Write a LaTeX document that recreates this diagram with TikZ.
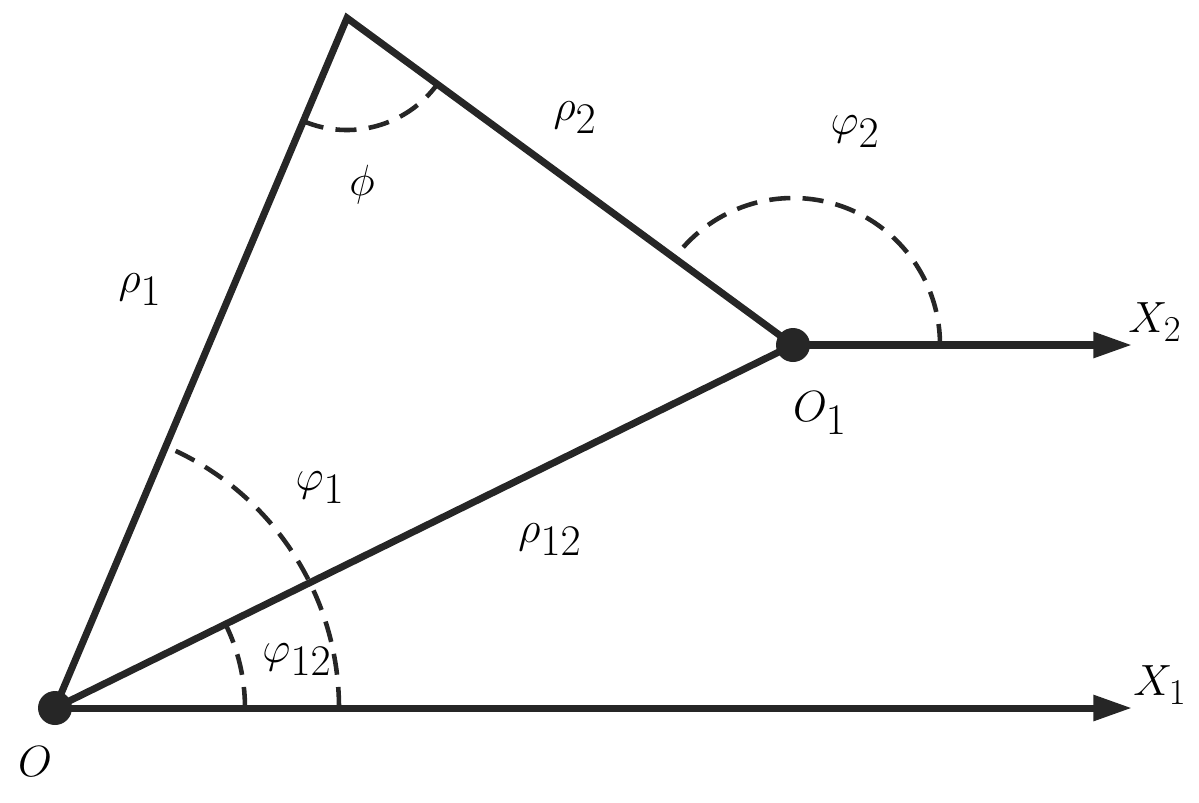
\documentclass[tikz,border=0pt]{standalone}
\usetikzlibrary{arrows.meta}
\begin{document}
\begin{tikzpicture}[x=0.02cm,y=-0.02cm,
  line/.style={line width=4pt,draw=dk,line cap=round},
  arrowline/.style={line width=4pt,draw=dk,-{Triangle[length=22pt,width=14pt]}},
  arcd/.style={line width=2.6pt,draw=dk,dash pattern=on 12pt off 7pt},
  lab/.style={font=\fontsize{35}{40}\selectfont,text=black}]
\definecolor{dk}{HTML}{262626}
\useasboundingbox (0,0) rectangle (1199,802);
\coordinate (O) at (55,708);
\coordinate (O1) at (793,345);
\coordinate (A) at (347,18);
\coordinate (X1) at (1132,708);
\coordinate (X2) at (1132,345);
\draw[line] (O) -- (A) -- (O1) -- cycle;
\draw[arrowline] (O) -- (X1);
\draw[arrowline] (O1) -- (X2);
\fill[dk] (O) circle (0.34cm);
\fill[dk] (O1) circle (0.34cm);
\draw[arcd] (A) ++(113:112) arc[start angle=113,end angle=36,radius=112];
\draw[arcd] (O1) ++(0:147) arc[start angle=0,end angle=-144,radius=147];
\draw[arcd] (O) ++(0:284) arc[start angle=0,end angle=-67,radius=284];
\draw[arcd] (O) ++(0:190) arc[start angle=0,end angle=-26.2,radius=190];
\node[lab] (l1) at (575,118) {$\rho_2$};
\node[lab] (l2) at (855,132) {$\varphi_2$};
\node[lab] (l3) at (362,185) {$\phi$};
\node[lab] (l4) at (140,290) {$\rho_1$};
\node[lab,font=\fontsize{28}{34}\selectfont] (l5) at (1155,322) {$X_2$};
\node[lab] (l6) at (820,413) {$O_1$};
\node[lab] (l7) at (320,488) {$\varphi_1$};
\node[lab] (l8) at (550,540) {$\rho_{12}$};
\node[lab] (l9) at (297,660) {$\varphi_{12}$};
\node[lab,font=\fontsize{28}{34}\selectfont] (l10) at (1160,685) {$X_1$};
\node[lab] (l11) at (35,762) {$O$};
\end{tikzpicture}
\end{document}
